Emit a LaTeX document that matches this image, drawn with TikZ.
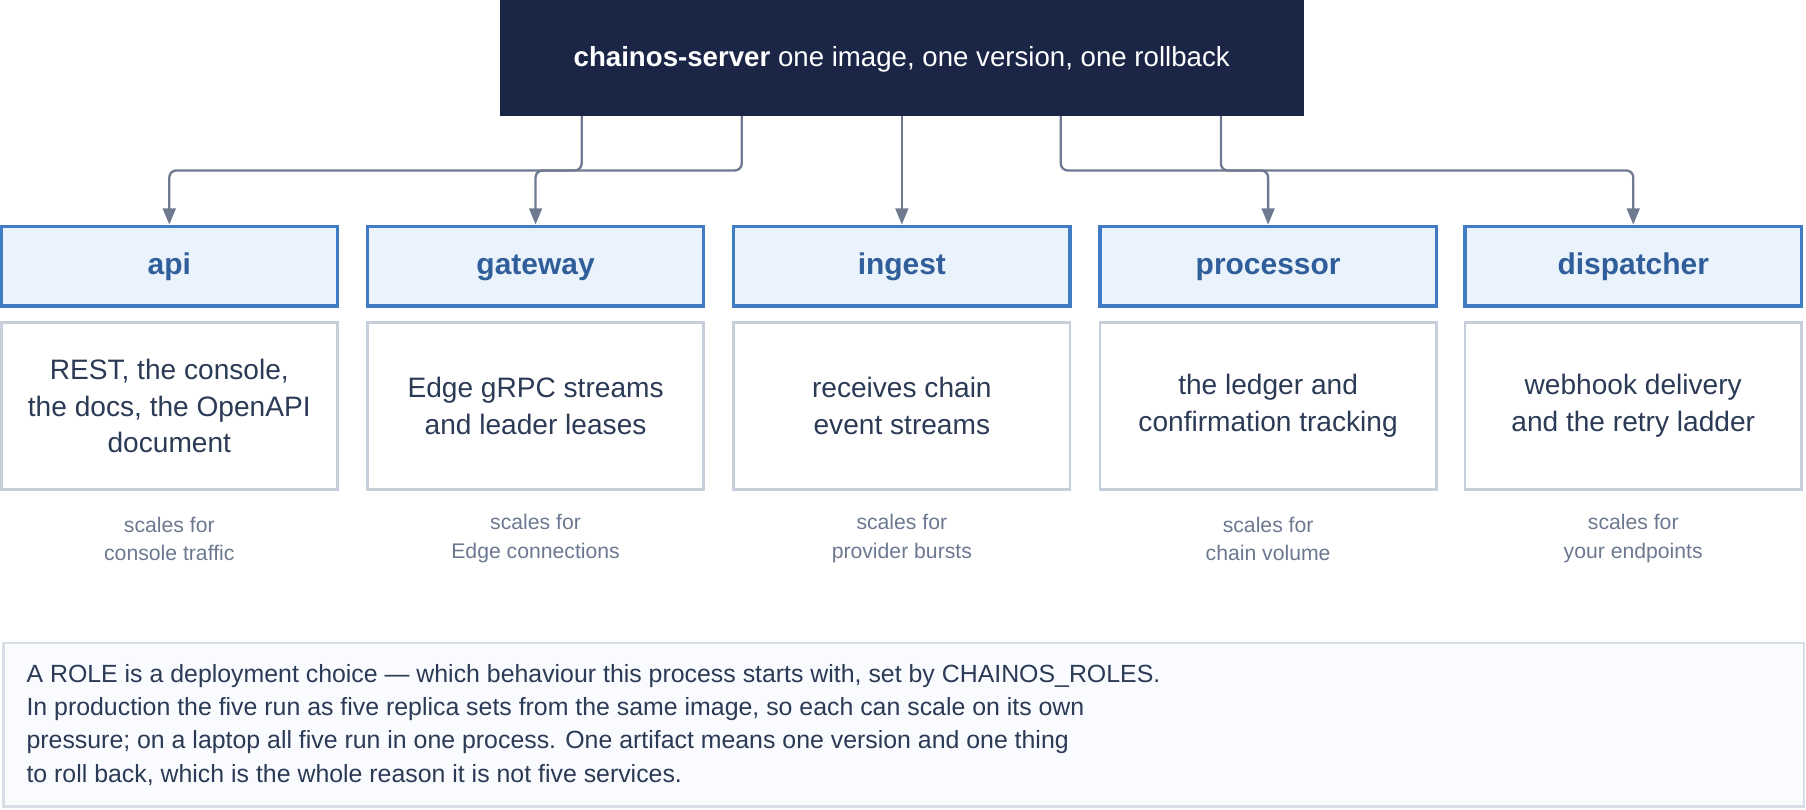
\documentclass[tikz,border=0pt]{standalone}
\usepackage{fontspec}
\setmainfont{Liberation Sans}
\usetikzlibrary{arrows.meta}
\definecolor{navy}{HTML}{1B2545}
\definecolor{roleline}{HTML}{3F7CC4}
\definecolor{rolefill}{HTML}{EAF3FB}
\definecolor{roletext}{HTML}{2F5E9A}
\definecolor{descline}{HTML}{C8CFDC}
\definecolor{desctext}{HTML}{2B3A55}
\definecolor{notetext}{HTML}{6B7890}
\definecolor{wire}{HTML}{6E7A90}
\begin{document}
\begin{tikzpicture}[x=0.5pt,y=-0.5pt,
  rolebox/.style={draw=roleline,fill=rolefill,line width=1.5pt,minimum width=146pt,minimum height=34.5pt,inner sep=0pt,text height=9.5pt,text depth=2.5pt,text=roletext,font=\fontsize{13}{15}\selectfont\bfseries},
  descbox/.style={draw=descline,line width=1.2pt,minimum width=146pt,minimum height=72.5pt,inner sep=0pt,text=desctext,align=center,font=\fontsize{12.2}{16}\selectfont},
  scalenote/.style={text=notetext,align=center,text height=7pt,font=\fontsize{9.2}{12.5}\selectfont},
  feed/.style={draw=wire,line width=1pt,rounded corners=3pt,-{Triangle[length=7pt,width=5.5pt]}}]
\useasboundingbox (0,0) rectangle (1568,703);
\path (434,0) node[draw=navy,fill=navy,minimum width=348.5pt,minimum height=50pt,anchor=north west,inner sep=0pt,text height=9pt,text depth=2pt,text=white,font=\fontsize{12}{14}\selectfont] (server) {\textbf{chainos-server} one image, one version, one rollback};
\path (147,231) node[rolebox] (api) {api};
\path (465,231) node[rolebox] (gateway) {gateway};
\path (783,231) node[rolebox] (ingest) {ingest};
\path (1101,231) node[rolebox] (processor) {processor};
\path (1418,231) node[rolebox] (dispatcher) {dispatcher};
\path (147,352.5) node[descbox] (apid) {REST, the console,\\the docs, the OpenAPI\\document};
\path (465,352.5) node[descbox] (gatewayd) {Edge gRPC streams\\and leader leases};
\path (783,352.5) node[descbox] (ingestd) {receives chain\\event streams};
\path (1101,352.5) node[descbox] (processord) {the ledger and\\confirmation tracking};
\path (1418,352.5) node[descbox] (dispatcherd) {webhook delivery\\and the retry ladder};
\path (147,480) node[scalenote] (apis) {scales for\\console traffic};
\path (465,480) node[scalenote] (gateways) {scales for\\Edge connections};
\path (783,480) node[scalenote] (ingests) {scales for\\provider bursts};
\path (1101,480) node[scalenote] (processors) {scales for\\chain volume};
\path (1418,480) node[scalenote] (dispatchers) {scales for\\your endpoints};
\path (2,557) node[draw=descline!70,fill=rolefill!30,line width=1.2pt,minimum width=781.5pt,minimum height=71pt,anchor=north west,inner sep=0pt] (note) {};
\path (note.west) ++(14,0) node[anchor=west,align=left,text=desctext,font=\fontsize{10.8}{14.5}\selectfont] (notetext) {A ROLE is a deployment choice — which behaviour this process starts with, set by CHAINOS\_ROLES.\\In production the five run as five replica sets from the same image, so each can scale on its own\\pressure; on a laptop all five run in one process. One artifact means one version and one thing\\to roll back, which is the whole reason it is not five services.};
\draw[feed] (server.south -| 505,0) |- (147,148) -- (api.north);
\draw[feed] (server.south -| 644,0) |- (465,148) -- (gateway.north);
\draw[feed] (server.south -| ingest) -- (ingest.north);
\draw[feed] (server.south -| 921,0) |- (1101,148) -- (processor.north);
\draw[feed] (server.south -| 1060,0) |- (1418,148) -- (dispatcher.north);
\end{tikzpicture}
\end{document}
